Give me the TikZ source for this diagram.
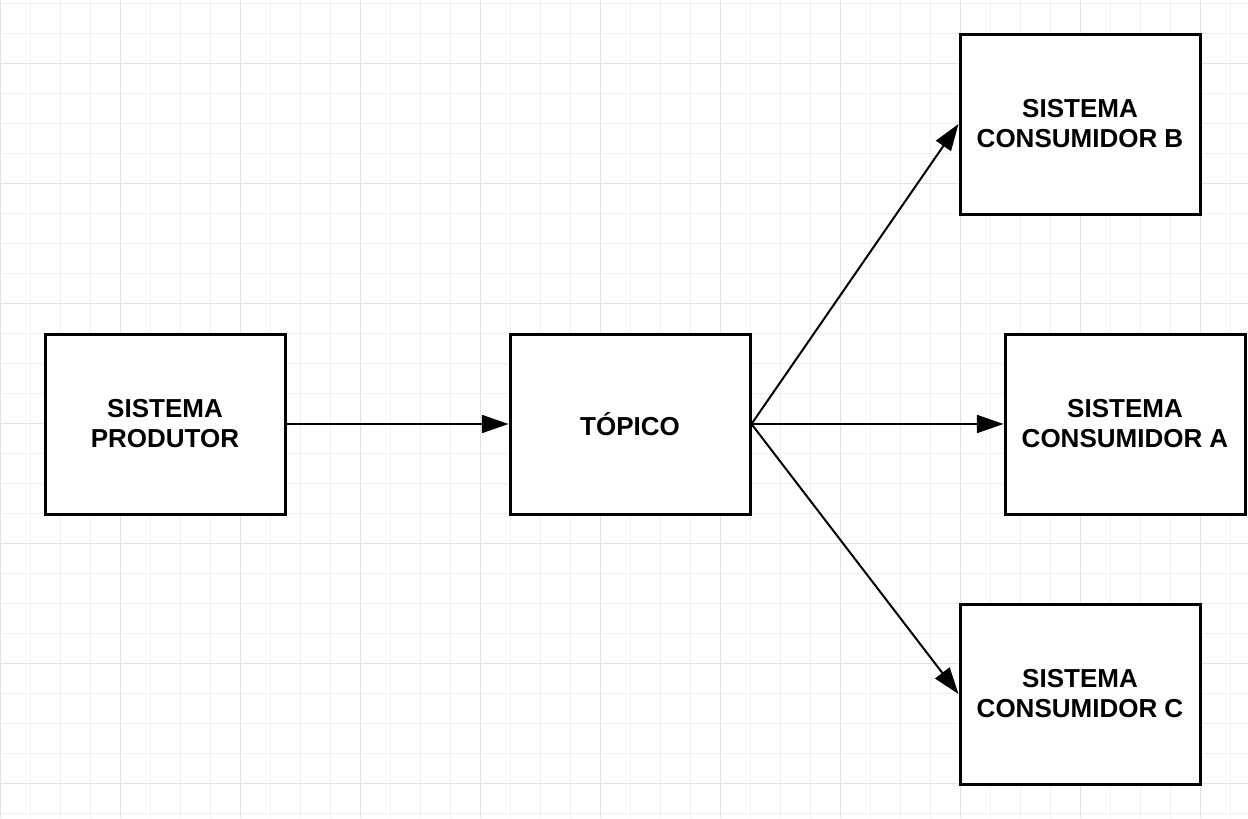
\documentclass[tikz,border=0pt]{standalone}
\usepackage{fontspec}
\setmainfont{Liberation Sans}
\usetikzlibrary{arrows.meta}

\definecolor{gridminor}{HTML}{F0F0F0}
\definecolor{gridmajor}{HTML}{E2E2E2}

\tikzset{
  sysbox/.style={draw, line width=2.25pt, fill=white, inner sep=0pt,
    minimum width=180pt, minimum height=135pt, align=center,
    font=\fontsize{19.5}{22.5}\selectfont\bfseries},
  flow/.style={line width=1.5pt, -{Triangle[length=20pt, width=13.5pt]}}
}

\begin{document}
\begin{tikzpicture}[x=0.75pt, y=-0.75pt]
        \useasboundingbox (0,0) rectangle (1248,818);
        \fill[white] (0,0) rectangle (1248,818);

        % background grid
        \foreach \gx in {0,30,...,1230} \draw[gridminor, line width=0.75pt] (\gx,0) -- (\gx,818);
        \foreach \gy in {3,33,...,813} \draw[gridminor, line width=0.75pt] (0,\gy) -- (1248,\gy);
        \foreach \gx in {0,120,...,1200} \draw[gridmajor, line width=0.75pt] (\gx,0) -- (\gx,818);
        \foreach \gy in {63,183,...,783} \draw[gridmajor, line width=0.75pt] (0,\gy) -- (1248,\gy);

        \node[sysbox] (produtor) at (165,424) {SISTEMA\\PRODUTOR};
        \node[sysbox] (topico) at (630,424) {TÓPICO};

        \node[sysbox] (consB) at (1080,124) {SISTEMA\\CONSUMIDOR B};
        \node[sysbox] (consA) at (1125,424) {SISTEMA\\CONSUMIDOR A};
        \node[sysbox] (consC) at (1080,694) {SISTEMA\\CONSUMIDOR C};

        \draw[flow] (produtor.east) -- (topico.west);
        \draw[flow] (topico.east) -- (consA.west);
        \draw[flow] (topico.east) -- (consB.west);
        \draw[flow] (topico.east) -- (consC.west);
      \end{tikzpicture}
\end{document}
